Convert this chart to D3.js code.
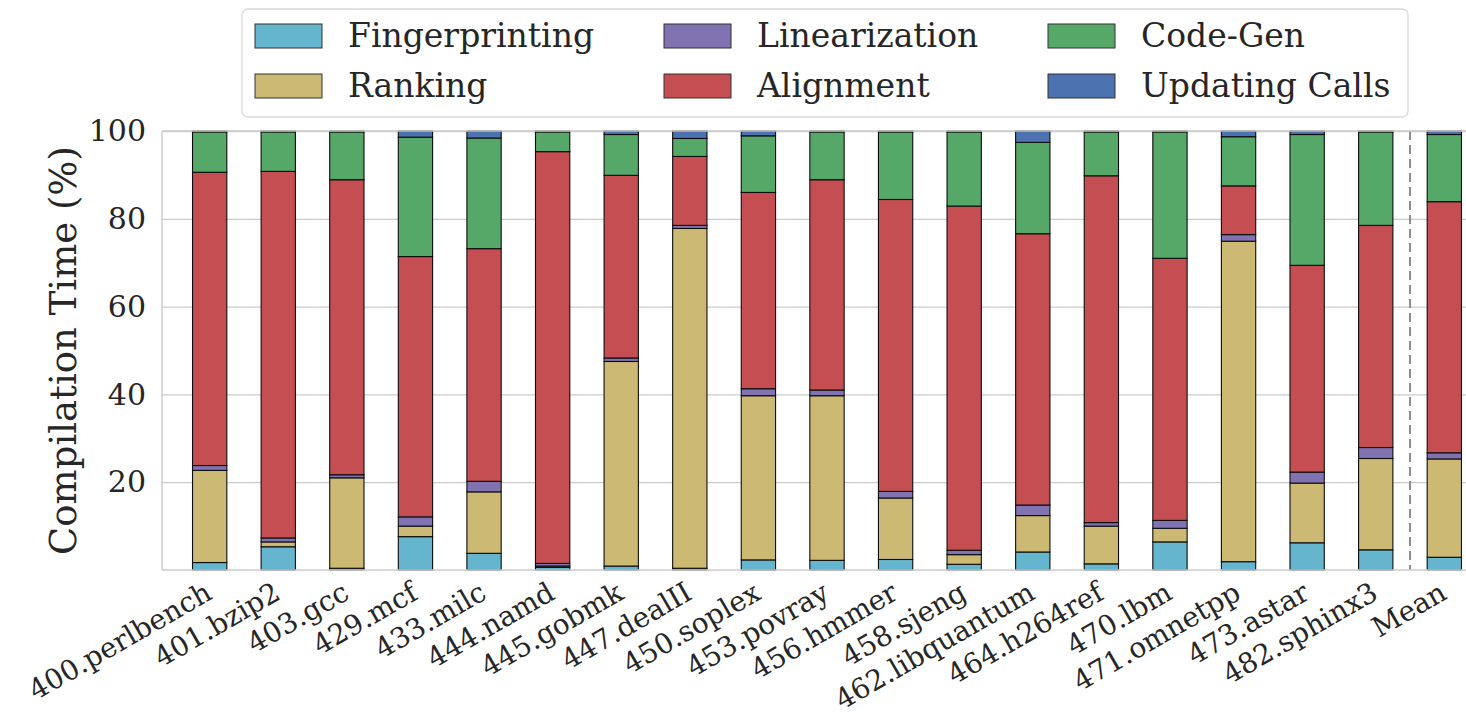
<!DOCTYPE html>
<html>
<head>
<meta charset="utf-8">
<script src="https://cdn.jsdelivr.net/npm/d3@7"></script>
<style>
  html, body { margin: 0; padding: 0; background: #ffffff; }
  svg { display: block; }
  text { font-family: "DejaVu Serif", serif; fill: #262626; }
</style>
</head>
<body>
<svg id="chart" width="1466" height="719"></svg>
<script>
// ---------- data ----------
const categories = ["400.perlbench","401.bzip2","403.gcc","429.mcf","433.milc","444.namd","445.gobmk","447.dealII","450.soplex","453.povray","456.hmmer","458.sjeng","462.libquantum","464.h264ref","470.lbm","471.omnetpp","473.astar","482.sphinx3","Mean"];
const seriesNames = ["Fingerprinting","Ranking","Linearization","Alignment","Code-Gen","Updating Calls"];
const fingerprinting = [1.7, 5.3, 0.4, 7.6, 3.8, 0.6, 0.9, 0.4, 2.3, 2.2, 2.4, 1.3, 4.1, 1.4, 6.4, 1.9, 6.2, 4.6, 2.9];
const ranking        = [21.0, 1.1, 20.6, 2.4, 14.0, 0.3, 46.6, 77.4, 37.4, 37.5, 14.0, 2.2, 8.3, 8.6, 3.1, 73.0, 13.6, 20.8, 22.4];
const linearization  = [1.1, 0.9, 0.7, 2.1, 2.4, 0.6, 0.8, 0.7, 1.6, 1.3, 1.5, 1.0, 2.4, 0.8, 1.8, 1.5, 2.5, 2.5, 1.4];
const alignment      = [66.8, 83.5, 67.2, 59.3, 53.0, 93.8, 41.6, 15.7, 44.7, 47.9, 66.5, 78.4, 61.8, 79.0, 59.7, 11.1, 47.1, 50.6, 57.2];
const codeGen        = [9.2, 9.0, 10.9, 27.2, 25.2, 4.5, 9.3, 4.1, 12.9, 10.9, 15.4, 16.9, 20.8, 10.0, 28.8, 11.2, 29.8, 21.3, 15.3];
const updatingCalls  = [0.2, 0.2, 0.2, 1.4, 1.6, 0.2, 0.8, 1.7, 1.1, 0.2, 0.2, 0.2, 2.6, 0.2, 0.2, 1.3, 0.8, 0.2, 0.8];
const yTicks = [20, 40, 60, 80, 100];
const colors = ["#64B5CD", "#CCB974", "#8172B2", "#C44E52", "#55A868", "#4C72B0"];

// ---------- build table ----------
const seriesValues = [fingerprinting, ranking, linearization, alignment, codeGen, updatingCalls];
const table = categories.map((c, i) => {
  const row = { cat: c };
  seriesNames.forEach((s, k) => row[s] = seriesValues[k][i]);
  return row;
});
const stacked = d3.stack().keys(seriesNames)(table);

// ---------- layout ----------
const svg = d3.select("#chart");
const plotLeft = 162, plotRight = 1492, plotTop = 131, plotBottom = 570;

const x = d3.scaleBand().domain(categories).range([plotLeft, plotRight])
  .paddingInner(0.5).paddingOuter(0.445);
const y = d3.scaleLinear().domain([0, 100]).range([plotBottom, plotTop]);
const color = d3.scaleOrdinal().domain(seriesNames).range(colors);

svg.append("rect").attr("width", 1466).attr("height", 719).attr("fill", "#ffffff");

// grid
const grid = svg.append("g")
  .attr("transform", `translate(${plotLeft},0)`)
  .call(d3.axisLeft(y).tickValues(yTicks).tickSize(-(plotRight - plotLeft)).tickFormat(""));
grid.select(".domain").remove();
grid.selectAll("line").attr("stroke", "#cccccc").attr("stroke-width", 1.3);

// bars
svg.append("g").selectAll("g").data(stacked).join("g")
  .attr("fill", d => color(d.key))
  .selectAll("rect").data(d => d).join("rect")
  .attr("x", d => x(d.data.cat))
  .attr("width", x.bandwidth())
  .attr("y", d => y(d[1]))
  .attr("height", d => y(d[0]) - y(d[1]))
  .attr("stroke", "#0d0d0d")
  .attr("stroke-width", 1.1);

// dashed separator before Mean
const sepX = (x(categories[categories.length - 2]) + x.bandwidth() + x(categories[categories.length - 1])) / 2;
svg.append("line")
  .attr("x1", sepX).attr("x2", sepX)
  .attr("y1", plotTop).attr("y2", plotBottom)
  .attr("stroke", "#8c8c8c").attr("stroke-width", 2)
  .attr("stroke-dasharray", "9,5");

// spines
svg.append("line").attr("x1", plotLeft).attr("x2", plotLeft).attr("y1", plotTop).attr("y2", plotBottom)
  .attr("stroke", "#cccccc").attr("stroke-width", 1.5);
svg.append("line").attr("x1", plotLeft).attr("x2", plotRight).attr("y1", plotBottom).attr("y2", plotBottom)
  .attr("stroke", "#cccccc").attr("stroke-width", 1.5);
svg.append("line").attr("x1", plotLeft).attr("x2", plotRight).attr("y1", plotTop).attr("y2", plotTop)
  .attr("stroke", "#cccccc").attr("stroke-width", 1.5);

// y axis labels
const yAxis = svg.append("g")
  .attr("transform", `translate(${plotLeft},0)`)
  .call(d3.axisLeft(y).tickValues(yTicks).tickSize(0).tickPadding(16));
yAxis.select(".domain").remove();
yAxis.selectAll("text").attr("font-family", "DejaVu Serif").attr("font-size", 30).attr("fill", "#262626");

// x axis labels
const xAxis = svg.append("g")
  .attr("transform", `translate(0,${plotBottom})`)
  .call(d3.axisBottom(x).tickSize(0));
xAxis.select(".domain").remove();
xAxis.selectAll("text")
  .attr("font-family", "DejaVu Serif").attr("font-size", 28).attr("fill", "#262626")
  .attr("text-anchor", "end")
  .attr("dy", null).attr("y", null)
  .attr("transform", "translate(4,28) rotate(-30)");

// y label
svg.append("text")
  .attr("transform", `translate(76,${(plotTop + plotBottom) / 2}) rotate(-90)`)
  .attr("text-anchor", "middle")
  .attr("font-size", 37)
  .text("Compilation Time (%)");

// legend
const legend = svg.append("g");
legend.append("rect")
  .attr("x", 242).attr("y", 9).attr("width", 1166).attr("height", 108)
  .attr("rx", 6).attr("fill", "#ffffff").attr("stroke", "#d9d9d9").attr("stroke-width", 1.3);
const colX = [255, 664, 1048];
const rowY = [24, 74];
seriesNames.forEach((s, k) => {
  const col = Math.floor(k / 2), row = k % 2;
  legend.append("rect")
    .attr("x", colX[col]).attr("y", rowY[row]).attr("width", 67).attr("height", 24)
    .attr("fill", color(s)).attr("stroke", "#333333").attr("stroke-width", 1);
  legend.append("text")
    .attr("x", colX[col] + 93).attr("y", rowY[row] + 23)
    .attr("font-size", 33)
    .text(s);
});
</script>
</body>
</html>
